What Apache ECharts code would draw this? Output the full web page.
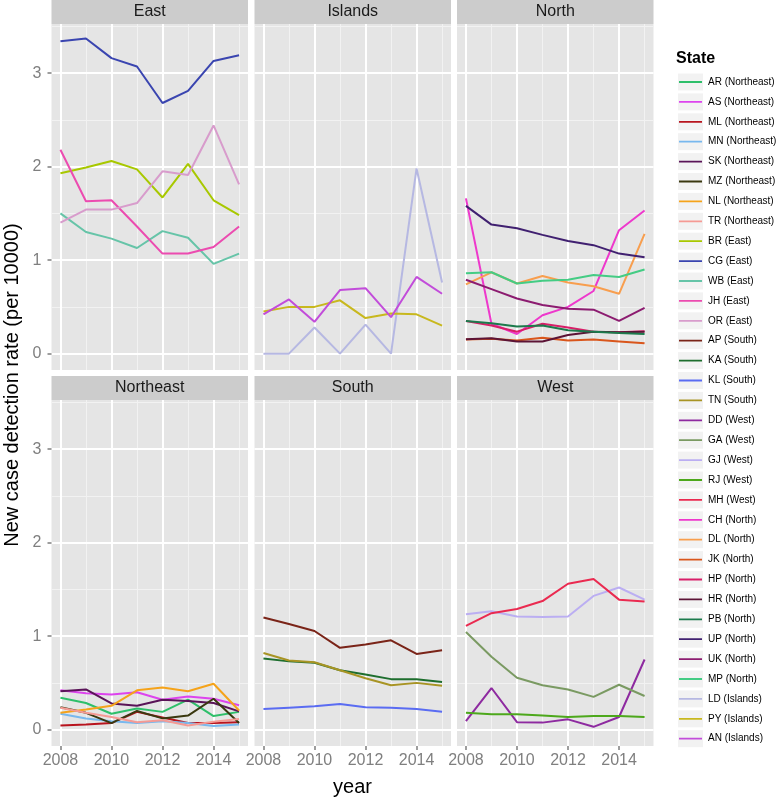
<!DOCTYPE html>
<html><head><meta charset="utf-8">
<script src="https://cdn.jsdelivr.net/npm/echarts@6/dist/echarts.min.js"></script>
<style>html,body{margin:0;padding:0;background:#fff}#c{width:776px;height:797px}</style>
</head><body><div id="c"></div>
<script>
// ---------- data ----------
const years = [2008, 2009, 2010, 2011, 2012, 2013, 2014, 2015];
const panels = ['East', 'Islands', 'North', 'Northeast', 'South', 'West'];
const xMajorTicks = [2008, 2010, 2012, 2014];
const xMinorTicks = [2009, 2011, 2013, 2015];
const yMajorTicks = [0, 1, 2, 3];
const yMinorTicks = [0.5, 1.5, 2.5, 3.5];

const states = ['AR (Northeast)','AS (Northeast)','ML (Northeast)','MN (Northeast)','SK (Northeast)','MZ (Northeast)','NL (Northeast)','TR (Northeast)',
  'BR (East)','CG (East)','WB (East)','JH (East)','OR (East)',
  'AP (South)','KA (South)','KL (South)','TN (South)',
  'DD (West)','GA (West)','GJ (West)','RJ (West)','MH (West)',
  'CH (North)','DL (North)','JK (North)','HP (North)','HR (North)','PB (North)','UP (North)','UK (North)','MP (North)',
  'LD (Islands)','PY (Islands)','AN (Islands)'];

const colors = ['#2EBF6A','#DD44EE','#B8141E','#78B8EE','#5A1458','#3A3810','#F5A31A','#F59A94',
  '#A8C800','#3A45B0','#66C4A8','#EC4BB0','#D89CCC',
  '#7A2418','#1E6E2E','#5A6CF2','#A89424',
  '#8E2AA0','#7A9A62','#BBAEF2','#4DA81C','#EA2A50',
  '#EE38CC','#F89E4E','#D9561C','#D81E68','#5C1436','#1C7A4C','#402070','#8C1C70','#44CC84',
  '#B6B8E2','#C8B81E','#C24CDA'];

// Northeast
const AR = [0.34, 0.285, 0.17, 0.225, 0.19, 0.32, 0.145, 0.19];
const AS = [0.42, 0.39, 0.375, 0.40, 0.32, 0.355, 0.33, 0.26];
const ML = [0.045, 0.055, 0.07, 0.19, 0.13, 0.07, 0.07, 0.08];
const MN = [0.17, 0.12, 0.09, 0.07, 0.09, 0.07, 0.04, 0.055];
const SK = [0.41, 0.43, 0.28, 0.255, 0.32, 0.305, 0.285, 0.195];
const MZ = [0.24, 0.18, 0.07, 0.20, 0.12, 0.15, 0.33, 0.07];
const NL = [0.18, 0.215, 0.255, 0.42, 0.45, 0.41, 0.49, 0.205];
const TR = [0.235, 0.18, 0.135, 0.08, 0.10, 0.045, 0.085, 0.115];
// East
const BR = [1.93, 1.99, 2.06, 1.97, 1.67, 2.03, 1.64, 1.48];
const CG = [3.34, 3.37, 3.16, 3.07, 2.68, 2.81, 3.13, 3.19];
const WB = [1.50, 1.30, 1.23, 1.13, 1.31, 1.24, 0.96, 1.07];
const JH = [2.18, 1.63, 1.64, 1.36, 1.07, 1.07, 1.14, 1.36];
const OR = [1.40, 1.54, 1.54, 1.61, 1.95, 1.91, 2.44, 1.81];
// South
const AP = [1.20, 1.13, 1.055, 0.875, 0.91, 0.955, 0.81, 0.85];
const KA = [0.76, 0.73, 0.715, 0.635, 0.59, 0.54, 0.54, 0.51];
const KL = [0.22, 0.235, 0.25, 0.275, 0.24, 0.235, 0.22, 0.19];
const TN = [0.82, 0.74, 0.72, 0.635, 0.55, 0.475, 0.50, 0.47];
// West
const DD = [0.09, 0.445, 0.08, 0.075, 0.11, 0.03, 0.135, 0.75];
const GA = [1.045, 0.78, 0.555, 0.475, 0.43, 0.35, 0.48, 0.36];
const GJ = [1.235, 1.265, 1.21, 1.205, 1.21, 1.43, 1.52, 1.39];
const RJ = [0.18, 0.165, 0.165, 0.15, 0.135, 0.145, 0.145, 0.135];
const MH = [1.11, 1.245, 1.29, 1.375, 1.56, 1.61, 1.39, 1.37];
// North
const CH = [1.66, 0.32, 0.21, 0.41, 0.50, 0.67, 1.32, 1.53];
const DL = [0.74, 0.87, 0.75, 0.83, 0.76, 0.72, 0.64, 1.28];
const JK = [0.15, 0.16, 0.14, 0.17, 0.14, 0.15, 0.13, 0.11];
const HP = [0.35, 0.30, 0.235, 0.32, 0.28, 0.235, 0.23, 0.24];
const HR = [0.155, 0.165, 0.13, 0.13, 0.20, 0.235, 0.23, 0.235];
const PB = [0.35, 0.325, 0.29, 0.30, 0.25, 0.235, 0.22, 0.21];
const UP = [1.58, 1.38, 1.34, 1.27, 1.205, 1.16, 1.07, 1.03];
const UK = [0.79, 0.69, 0.59, 0.52, 0.48, 0.47, 0.35, 0.49];
const MP = [0.86, 0.87, 0.75, 0.78, 0.79, 0.84, 0.82, 0.90];
// Islands
const LD = [0, 0, 0.28, 0, 0.31, 0, 1.98, 0.76];
const PY = [0.45, 0.50, 0.50, 0.57, 0.38, 0.43, 0.42, 0.30];
const AN = [0.42, 0.58, 0.34, 0.68, 0.70, 0.39, 0.82, 0.64];

const values = [AR, AS, ML, MN, SK, MZ, NL, TR, BR, CG, WB, JH, OR, AP, KA, KL, TN,
  DD, GA, GJ, RJ, MH, CH, DL, JK, HP, HR, PB, UP, UK, MP, LD, PY, AN];

// ---------- layout / style ----------
const FONT = 'Liberation Sans, Arial, Helvetica, sans-serif';
const colLeft = [51.5, 254.5, 457];
const rowTop = [24, 400];
const stripTop = [0, 376];
const PW = 196.5, PH = 346, SH = 24;
const XMIN = 2007.65, XMAX = 2015.35, YMIN = -0.175, YMAX = 3.525;
const GREY = '#7F7F7F';

const grids = [], xAxes = [], yAxes = [], graphics = [];
panels.forEach((name, p) => {
  const col = p % 3, row = Math.floor(p / 3);
  grids.push({ left: colLeft[col], top: rowTop[row], width: PW, height: PH,
    show: true, backgroundColor: '#E5E5E5', borderWidth: 0, containLabel: false });
  // minor axes
  xAxes.push({ type: 'value', gridIndex: p, position: 'bottom', min: XMIN, max: XMAX, z: 1,
    axisLine: { show: false, onZero: false }, axisTick: { show: false, customValues: xMinorTicks },
    axisLabel: { show: false, customValues: xMinorTicks },
    splitLine: { show: true, lineStyle: { color: '#F2F2F2', width: 1 } } });
  yAxes.push({ type: 'value', gridIndex: p, position: 'left', min: YMIN, max: YMAX, z: 1,
    axisLine: { show: false, onZero: false }, axisTick: { show: false, customValues: yMinorTicks },
    axisLabel: { show: false, customValues: yMinorTicks },
    splitLine: { show: true, lineStyle: { color: '#F2F2F2', width: 1 } } });
  // major axes
  xAxes.push({ type: 'value', gridIndex: p, position: 'bottom', min: XMIN, max: XMAX, z: 2,
    axisLine: { show: false, onZero: false },
    axisTick: { show: row === 1, customValues: xMajorTicks, length: 4, lineStyle: { color: GREY, width: 1.5 } },
    axisLabel: { show: row === 1, customValues: xMajorTicks, margin: 7, color: GREY, fontSize: 16, fontFamily: FONT, formatter: v => String(v) },
    splitLine: { show: true, lineStyle: { color: '#FFFFFF', width: 2 } } });
  yAxes.push({ type: 'value', gridIndex: p, position: 'left', min: YMIN, max: YMAX, z: 2,
    axisLine: { show: false, onZero: false },
    axisTick: { show: col === 0, customValues: yMajorTicks, length: 4, lineStyle: { color: GREY, width: 1.5 } },
    axisLabel: { show: col === 0, customValues: yMajorTicks, margin: 10, color: GREY, fontSize: 16, fontFamily: FONT, formatter: v => String(v) },
    splitLine: { show: true, lineStyle: { color: '#FFFFFF', width: 2 } } });
  // strip
  graphics.push({ type: 'rect', silent: true, z: 0,
    shape: { x: colLeft[col], y: stripTop[row], width: PW, height: SH },
    style: { fill: '#CCCCCC' } });
  graphics.push({ type: 'text', silent: true, z: 1,
    x: colLeft[col] + PW / 2, y: stripTop[row] + SH / 2,
    style: { text: name, fill: '#1A1A1A', font: '16px ' + FONT, textAlign: 'center', textVerticalAlign: 'middle' } });
});

const regionOf = s => s.match(/\((.*)\)/)[1];
const series = states.map((s, i) => {
  const p = panels.indexOf(regionOf(s));
  return {
    name: s, type: 'line', xAxisIndex: 2 * p + 1, yAxisIndex: 2 * p + 1,
    data: years.map((y, k) => [y, values[i][k]]),
    showSymbol: false, symbol: 'none', z: 3,
    lineStyle: { color: colors[i], width: 2 }, itemStyle: { color: colors[i] },
    emphasis: { disabled: true }, silent: true, animation: false
  };
});

// legend geometry
const LEG_LEFT = 678, LEG_TOP = 73.5, KEY_W = 25, KEY_H = 17, LEG_GAP = 2.9;
states.forEach((s, i) => {
  graphics.push({ type: 'rect', silent: true, z: 0,
    shape: { x: LEG_LEFT, y: LEG_TOP + i * (KEY_H + LEG_GAP), width: KEY_W, height: KEY_H },
    style: { fill: '#F2F2F2' } });
});
graphics.push({ type: 'text', silent: true, x: 676, y: 59,
  style: { text: 'State', fill: '#000', font: 'bold 16px ' + FONT, textAlign: 'left', textVerticalAlign: 'middle' } });
graphics.push({ type: 'text', silent: true, x: 352.5, y: 787,
  style: { text: 'year', fill: '#000', font: '20px ' + FONT, textAlign: 'center', textVerticalAlign: 'middle' } });
graphics.push({ type: 'text', silent: true, x: 12, y: 385, rotation: Math.PI / 2,
  style: { text: 'New case detection rate (per 10000)', fill: '#000', font: '20px ' + FONT, textAlign: 'center', textVerticalAlign: 'middle' } });

const chart = echarts.init(document.getElementById('c'), null, { renderer: 'canvas' });
chart.setOption({
  animation: false,
  backgroundColor: '#FFFFFF',
  grid: grids,
  xAxis: xAxes,
  yAxis: yAxes,
  legend: {
    orient: 'vertical', left: LEG_LEFT, top: LEG_TOP,
    itemWidth: KEY_W, itemHeight: KEY_H, itemGap: LEG_GAP, padding: 0,
    icon: 'path://M0,0L25,0L0,0Z M0,17L25,17L0,17Z M1,7.6L24,7.6L24,9.4L1,9.4Z',
    itemStyle: { borderWidth: 0 }, lineStyle: { width: 0 },
    selectedMode: false,
    textStyle: { fontSize: 10, fontFamily: FONT, color: '#000', padding: 0 },
    data: states
  },
  graphic: graphics,
  series: series
});
</script></body></html>
